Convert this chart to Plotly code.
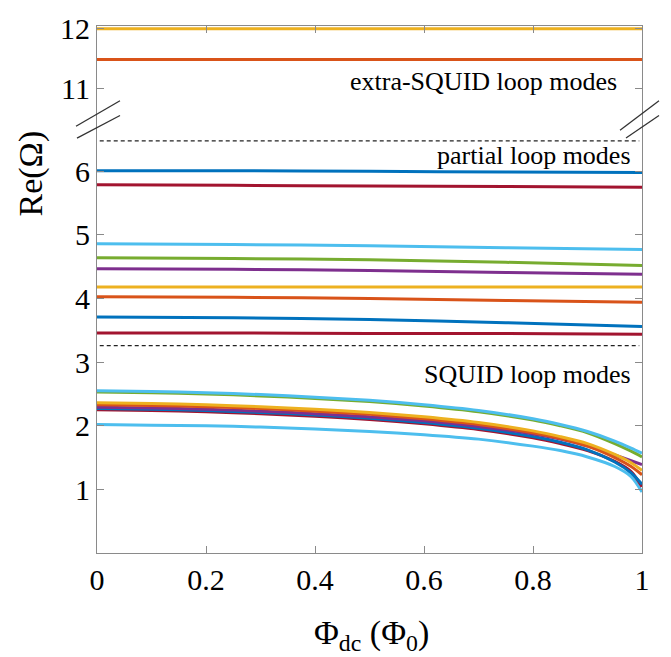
import plotly.graph_objects as go

# Flux bias (in units of the flux quantum)
phi_sq = [0, 0.1, 0.2, 0.3, 0.4, 0.5, 0.6, 0.7, 0.8, 0.85, 0.9, 0.95, 0.98, 1.0]
phi_lin = [0, 0.25, 0.5, 0.75, 1.0]

# MATLAB-style default colour order
BLUE, ORANGE, YELLOW, PURPLE = "#0072BD", "#D95319", "#EDB120", "#7E2F8E"
GREEN, CYAN, DARKRED = "#77AC30", "#4DBEEE", "#A2142F"

# SQUID loop modes
squid_blue = [2.27, 2.26, 2.24, 2.21, 2.17, 2.12, 2.05, 1.96, 1.83, 1.74, 1.62, 1.43, 1.26, 1.08]
squid_orange = [2.33, 2.32, 2.30, 2.27, 2.23, 2.18, 2.11, 2.02, 1.89, 1.80, 1.68, 1.50, 1.36, 1.23]
squid_yellow = [2.36, 2.35, 2.33, 2.30, 2.26, 2.21, 2.14, 2.05, 1.92, 1.83, 1.72, 1.55, 1.42, 1.30]
squid_purple = [2.29, 2.28, 2.26, 2.23, 2.19, 2.14, 2.08, 1.99, 1.87, 1.79, 1.68, 1.54, 1.45, 1.39]
squid_green = [2.53, 2.52, 2.50, 2.47, 2.43, 2.38, 2.31, 2.22, 2.09, 2.00, 1.89, 1.72, 1.60, 1.51]
squid_cyan_hi = [2.55, 2.54, 2.52, 2.49, 2.45, 2.40, 2.33, 2.24, 2.11, 2.02, 1.91, 1.76, 1.65, 1.57]
squid_darkred = [2.25, 2.24, 2.22, 2.19, 2.15, 2.10, 2.03, 1.94, 1.81, 1.72, 1.61, 1.44, 1.28, 1.04]
squid_cyan_lo = [2.02, 2.01, 2.00, 1.98, 1.95, 1.91, 1.86, 1.79, 1.68, 1.61, 1.51, 1.36, 1.20, 0.96]

# Partial loop modes
part_darkred_lo = [3.46, 3.46, 3.45, 3.45, 3.44]
part_blue_lo = [3.71, 3.70, 3.67, 3.62, 3.56]
part_orange = [4.03, 4.02, 4.00, 3.97, 3.94]
part_yellow = [4.18, 4.18, 4.18, 4.18, 4.18]
part_purple = [4.47, 4.46, 4.44, 4.41, 4.38]
part_green = [4.64, 4.63, 4.61, 4.57, 4.52]
part_cyan = [4.86, 4.85, 4.83, 4.80, 4.77]
part_darkred_hi = [5.79, 5.78, 5.77, 5.76, 5.75]
part_blue_hi = [6.01, 6.01, 6.00, 5.99, 5.98]

# Extra-SQUID loop modes
extra_orange = [11.48, 11.48, 11.48, 11.48, 11.48]
extra_yellow = [11.99, 11.99, 11.99, 11.99, 11.99]

# Boundaries between mode families
bound_squid = 3.26
bound_partial = 6.48

x_ticks = [0, 0.2, 0.4, 0.6, 0.8, 1]
x_ticktext = ["0", "0.2", "0.4", "0.6", "0.8", "1"]
y_low_ticks = [1, 2, 3, 4, 5, 6]
y_high_ticks = [11, 12]

FONT = "Liberation Serif"
AXC = "#8a8a8a"
LW = 3

fig = go.Figure()

lower = [
    (phi_sq, squid_cyan_lo, CYAN), (phi_sq, squid_darkred, DARKRED),
    (phi_sq, squid_blue, BLUE), (phi_sq, squid_purple, PURPLE),
    (phi_sq, squid_orange, ORANGE), (phi_sq, squid_yellow, YELLOW),
    (phi_sq, squid_green, GREEN), (phi_sq, squid_cyan_hi, CYAN),
    (phi_lin, part_darkred_lo, DARKRED), (phi_lin, part_blue_lo, BLUE),
    (phi_lin, part_orange, ORANGE), (phi_lin, part_yellow, YELLOW),
    (phi_lin, part_purple, PURPLE), (phi_lin, part_green, GREEN),
    (phi_lin, part_cyan, CYAN), (phi_lin, part_darkred_hi, DARKRED),
    (phi_lin, part_blue_hi, BLUE),
]
for xs, ys, c in lower:
    fig.add_trace(go.Scatter(x=xs, y=ys, mode="lines", xaxis="x", yaxis="y",
                             line=dict(color=c, width=LW, shape="spline", smoothing=0.8),
                             showlegend=False, hoverinfo="skip"))

for ys, c in [(extra_orange, ORANGE), (extra_yellow, YELLOW)]:
    fig.add_trace(go.Scatter(x=phi_lin, y=ys, mode="lines", xaxis="x2", yaxis="y2",
                             line=dict(color=c, width=LW), showlegend=False,
                             hoverinfo="skip"))

# Dashed separators between mode families
for yb in (bound_squid, bound_partial):
    fig.add_trace(go.Scatter(x=[0.005, 0.995], y=[yb, yb], mode="lines",
                             xaxis="x", yaxis="y",
                             line=dict(color="#222222", width=1.3, dash="4px,3px"),
                             showlegend=False, hoverinfo="skip"))

W, H = 671, 657
ML, MR, MT, MB = 97, 29, 17, 104
plot_w = W - ML - MR
plot_h = H - MT - MB
seam_px = 113  # pixel row where the axis break sits
split = (H - MB - seam_px) / plot_h
low_top = (H - MB - seam_px) / 64.7
high_top = 12 + (19.2 - MT) / 61.5
high_bot = high_top - (seam_px - MT) / 61.5


def px(xp, yp):
    """Page pixel -> paper coordinates (paper spans the plot area)."""
    return (xp - ML) / plot_w, 1 - (yp - MT) / plot_h


tickfont = dict(family=FONT, size=30, color="black")
common_y = dict(showline=True, linecolor=AXC, linewidth=1.2, mirror="ticks",
                ticks="inside", ticklen=7, tickcolor=AXC, showgrid=False,
                zeroline=False, tickfont=tickfont)

fig.update_layout(
    width=W, height=H, margin=dict(l=ML, r=MR, t=MT, b=MB),
    paper_bgcolor="white", plot_bgcolor="white",
    xaxis=dict(domain=[0, 1], anchor="y", range=[0, 1], tickvals=x_ticks,
               ticktext=x_ticktext, showline=True, linecolor=AXC, linewidth=1.2,
               ticks="inside", ticklen=7, tickcolor=AXC, showgrid=False,
               zeroline=False, tickfont=tickfont),
    yaxis=dict(domain=[0, split], anchor="x", range=[0, low_top],
               tickvals=y_low_ticks, **common_y),
    xaxis2=dict(domain=[0, 1], anchor="y2", range=[0, 1], side="top",
                tickvals=x_ticks, showticklabels=False, showline=True,
                linecolor=AXC, linewidth=1.2, ticks="inside", ticklen=7,
                tickcolor=AXC, showgrid=False, zeroline=False),
    yaxis2=dict(domain=[split, 1], anchor="x2", range=[high_bot, high_top],
                tickvals=y_high_ticks, **common_y),
)

# Mode-family labels
label_font = dict(family=FONT, size=26, color="black")
for txt, xv, yv, ax in [("extra-SQUID loop modes", 0.958, 11.12, "y2"),
                        ("partial loop modes", 0.984, 6.25, "y"),
                        ("SQUID loop modes", 0.984, 2.80, "y")]:
    fig.add_annotation(text=txt, x=xv, y=yv, xref="x", yref=ax,
                       xanchor="right", yanchor="middle", showarrow=False,
                       font=label_font)

# Axis titles
ax_, ay_ = px(31, 167)
fig.add_annotation(text="Re(Ω)", x=ax_, y=ay_, xref="paper", yref="paper",
                   textangle=-90, showarrow=False, xanchor="center", yanchor="middle",
                   font=dict(family=FONT, size=34, color="black"))
tx_, ty_ = px(371, 636)
fig.add_annotation(text="Φ<sub>dc</sub> (Φ<sub>0</sub>)", x=tx_, y=ty_,
                   xref="paper", yref="paper", showarrow=False,
                   xanchor="center", yanchor="middle",
                   font=dict(family=FONT, size=34, color="black"))

# Axis-break slashes on both sides
right = W - MR
slashes = [(76, 119, 120, 93), (77, 131, 120, 108),
           (right - 22, 123, right + 17, 93), (right - 16, 131, right + 17, 108)]
for x0, y0, x1, y1 in slashes:
    a, b = px(x0, y0)
    c, d = px(x1, y1)
    fig.add_shape(type="line", xref="paper", yref="paper", x0=a, y0=b, x1=c, y1=d,
                  line=dict(color="#333333", width=1.3))

fig.write_html("out.html")
